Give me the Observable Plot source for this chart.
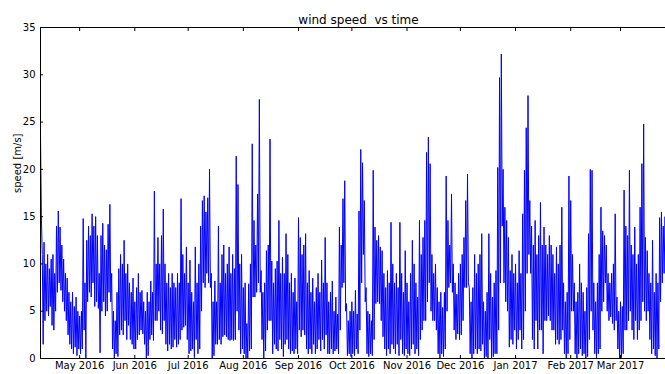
<!DOCTYPE html>
<html><head><meta charset="utf-8">
<script src="https://cdn.jsdelivr.net/npm/d3@7"></script>
<script src="https://cdn.jsdelivr.net/npm/@observablehq/plot@0.6"></script>
<style>html,body{margin:0;padding:0;background:#fff;overflow:hidden;} svg text{white-space:pre;}</style>
</head><body><div id="chart"></div>
<script>
// wind speed [m/s], two readings per day (high, low)
const apr2016 = [23.7,15, 11,1.5, 12.3,4, 10,5, 11,4.5, 9.5,5.5, 10.5,3.5, 11,3, 9,5, 14,7, 15.6,8, 13.9,7.2, 12,6, 10.5,5, 9,4, 8.5,2.5, 7,1.5, 6,1, 7,0.5, 5.5,1.2, 6.5,0.3, 5,1];
const may2016 = [4.5,0.5, 5,1, 14.8,3, 8,0, 12.5,6, 14,7, 13,6.5, 15.3,8, 14,5.5, 15,6, 13,5.3, 9,0.6, 13,5, 14.3,6, 12,4.5, 11.5,5, 14.2,7, 16.3,6, 9,1, 5,0, 4,0.5, 7,0.2, 9.5,2.5, 11,3, 10,2.5, 12.5,4, 9,2, 10,3.5, 8,2, 7,1.5, 8.5,1];
const jun2016 = [6,1, 7.5,2, 9,2.5, 7,3, 7.2,2.6, 6,1.5, 5,0, 7,0.3, 6,2, 8.2,2.5, 7,1.9, 17.7,4, 10,4, 12.8,5, 10,3, 13,2.6, 15.8,4, 10,1.5, 8,0.8, 9,1.5, 7.5,1, 9,1.2, 8,2, 7.5,1.2, 9,1.5, 8,2, 16.9,3, 11,3.3, 9,3.5, 11.8,2];
const jul2016 = [8,0.5, 10.4,0.8, 7,1, 6,0.1, 11.8,2, 8,0.5, 10,1, 14,5, 16.7,8, 17.2,7.5, 15.5,9, 17,8, 20,7.5, 9,0, 6,0.3, 8.2,1.5, 6,1.5, 14,2, 8,1.5, 11,2.3, 12,2.5, 9,2.3, 10,2, 11.8,1.9, 9,2, 11,1.9, 9.5,2, 21.4,5, 18.4,3, 10,0.5, 11,1];
const aug2016 = [7.5,0.5, 8,0, 3.7,0, 7.9,0.8, 10,1, 22.7,6.5, 14.6,6.5, 12,7, 17.4,8, 27.4,7, 9.3,2, 7,0, 8,0.8, 11.4,3, 12,4, 23.2,4, 10.3,0.5, 8,1.5, 9.5,1, 10.3,0.8, 14.6,2, 9,1, 10.7,0.2, 9,1.5, 13.2,2, 11,1, 8,0.5, 9,0.8, 7,0.5, 8.5,1, 6,0.5];
const sep2016 = [14.9,3, 12.8,2.3, 11,3, 12,2.5, 13.2,1, 8,0.5, 9.3,1, 7,0.5, 8.5,1.5, 6,0.5, 7.5,1, 9,2, 7,0.8, 10.4,2, 8,1, 12.8,2.5, 8,0.5, 6,0.5, 7,1, 8.2,0.5, 5,0.8, 6.5,1, 4.7,0.5, 13.9,3, 12,7.5, 16.9,8, 18.8,5, 5.8,0.3, 4,0.5, 5,0.2];
const oct2016 = [6,0.5, 5,0.3, 7.2,1, 4.7,0.5, 15.6,3, 22.1,8, 20.7,11, 16.7,6, 7.5,0.5, 5,0.2, 4.7,0.5, 4,0.3, 19.9,2, 13.9,5.8, 12.5,6, 13,5.8, 11.8,4, 11.4,2.3, 9,1, 7.5,0.3, 9.3,1, 8,0.5, 14.4,1.5, 10,1, 8,0.5, 9,1.5, 7.5,0.3, 14.4,2, 9,0.5, 7,0.3, 11.4,1];
const nov2016 = [8,0.5, 6,0.3, 9,1, 12.5,1.5, 10,0.5, 8,1, 6.5,0.3, 14.6,2, 11,3, 12.8,4, 14.6,4, 21.8,6, 23.4,8, 20.6,5, 11,4, 9,4, 10,3, 7.5,0.5, 6,0, 7,0.5, 5.4,0.2, 7,1, 19.3,5, 14.6,7.5, 12,8, 17.4,7, 10,3, 8,2, 6.8,2.6, 9,2];
const dec2016 = [10,2.5, 11,4, 12.8,7.5, 16.7,7.5, 19.5,8, 7.5,0.5, 6,0, 7.5,0.5, 11,1, 9,0.5, 10,1, 11,0.8, 13.2,1.5, 6,0, 5,0.2, 7,0, 13.2,2, 9,0, 6.5,0.2, 8,0.5, 9.3,0.5, 20.2,3, 29.7,8, 32.2,14, 20,8, 16,6, 14.6,5, 12.8,1.2, 9.3,2, 11,1.5, 9,3];
const jan2017 = [10,1, 8,2, 11.4,3, 9,1, 15.3,2, 19.9,5, 24.4,9, 27.8,11, 16.7,9, 14,2, 12,1, 14.6,4, 11,1, 13,3, 16.5,3, 12,0.5, 13.9,4, 12,4, 11,4.5, 13,4, 12,3, 11,3, 9,1.5, 11.8,2, 10,1.5, 12,2, 16,3, 8,0.5, 6,0, 7,0.5, 19.3,2];
const feb2017 = [16.7,5, 11,5, 8,0.5, 6,0, 7,0.5, 10,1, 8,0.3, 7,0.5, 5,0, 7.5,0.2, 13.2,2, 20,5, 19.9,3, 8,0.5, 6,0, 8,0.5, 11,1, 16,5, 13.5,6, 13,8, 12,5, 9,4, 8,4.4, 9,3.7, 10,3, 15.3,4, 6.5,1, 5,0];
const mar2017 = [6,0.1, 5.5,0.5, 17.8,3, 14,3, 13,4, 19.9,5, 12,3, 11,2, 13.9,4, 10,2, 11,3, 16,4, 20.6,6, 24.8,5, 12.8,4, 11.4,5, 9,2, 8,0.5, 12.5,1, 7,0.3, 9,0, 8,1, 14.9,6, 15.5,8, 14,9, 15,9];

const monthStarts = [Date.UTC(2016,3,9), Date.UTC(2016,4,1), Date.UTC(2016,5,1), Date.UTC(2016,6,1), Date.UTC(2016,7,1), Date.UTC(2016,8,1), Date.UTC(2016,9,1), Date.UTC(2016,10,1), Date.UTC(2016,11,1), Date.UTC(2017,0,1), Date.UTC(2017,1,1), Date.UTC(2017,2,1)];
const monthValues = [apr2016, may2016, jun2016, jul2016, aug2016, sep2016, oct2016, nov2016, dec2016, jan2017, feb2017, mar2017];
const tickDates = [Date.UTC(2016,4,1), Date.UTC(2016,5,1), Date.UTC(2016,6,1), Date.UTC(2016,7,1), Date.UTC(2016,8,1), Date.UTC(2016,9,1), Date.UTC(2016,10,1), Date.UTC(2016,11,1), Date.UTC(2017,0,1), Date.UTC(2017,1,1), Date.UTC(2017,2,1)].map(t => new Date(t));
const yTicks = [0, 5, 10, 15, 20, 25, 30, 35];
const title = "wind speed  vs time";
const yLabel = "speed [m/s]";

const data = [];
monthValues.forEach((vals, m) => vals.forEach((v, i) => data.push({date: new Date(monthStarts[m] + i * 43200000), speed: v})));

const x0 = new Date(Date.UTC(2016,3,9));
const x1 = new Date(Date.UTC(2017,3,1,11));

const chart = Plot.plot({
  width: 676, height: 374,
  marginLeft: 40, marginRight: 0, marginTop: 27, marginBottom: 16,
  style: {fontFamily: "DejaVu Sans", fontSize: "10px", background: "white", maxWidth: "none", color: "#000"},
  x: {type: "utc", domain: [x0, x1]},
  y: {domain: [0, 35]},
  marks: [
    Plot.line(data, {x: "date", y: "speed", stroke: "blue", strokeWidth: 1, clip: true}),
    Plot.ruleY([0, 35], {stroke: "#000", strokeWidth: 1}),
    Plot.ruleX([x0], {stroke: "#000", strokeWidth: 1}),
    Plot.axisY({ticks: yTicks, tickSize: 0, tickPadding: 5, label: null}),
    Plot.axisY({ticks: yTicks, tickSize: 3, dx: 3, tickFormat: () => "", label: null}),
    Plot.axisX({ticks: tickDates, tickSize: 0, tickPadding: 3, tickFormat: d3.utcFormat("%b %Y"), label: null}),
    Plot.axisX({ticks: tickDates, anchor: "top", tickSize: 3, dy: 3, tickFormat: () => "", label: null}),
    Plot.axisX({ticks: tickDates, anchor: "bottom", tickSize: 3, dy: -3, tickFormat: () => "", label: null}),
    Plot.text([title], {frameAnchor: "top", lineAnchor: "bottom", dy: -4, fontSize: 12}),
    Plot.text([yLabel], {frameAnchor: "left", dx: -23, rotate: -90, fontSize: 10})
  ]
});
chart.style.maxWidth = "none";
document.getElementById("chart").appendChild(chart);
</script>
</body></html>
